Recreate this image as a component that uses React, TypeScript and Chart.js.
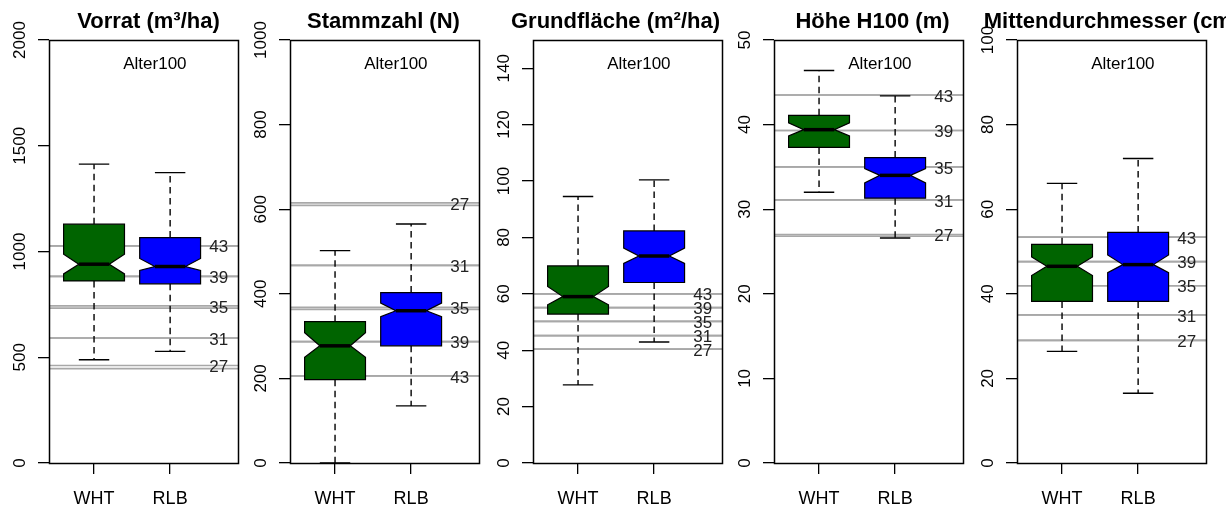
import React, { useEffect, useRef } from "react";
import { Chart, registerables } from "chart.js";

Chart.register(...registerables);

// ---------- data ----------
const groups = ["WHT", "RLB"];
const titles = [
  "Vorrat (m³/ha)",
  "Stammzahl (N)",
  "Grundfläche (m²/ha)",
  "Höhe H100 (m)",
  "Mittendurchmesser (cm)",
];
const annotationText = "Alter100";
const siLabels = ["43", "39", "35", "31", "27"];

const yMaxes = [2000, 1000, 150, 50, 100];
const vorratTicks = [0, 500, 1000, 1500, 2000];
const stammTicks = [0, 200, 400, 600, 800, 1000];
const grundTicks = [0, 20, 40, 60, 80, 100, 120, 140];
const hoeheTicks = [0, 10, 20, 30, 40, 50];
const mdTicks = [0, 20, 40, 60, 80, 100];

// box stats: lower whisker, Q1, notch low, median, notch high, Q3, upper whisker
const vorratWHT = [488, 861, 894, 940, 987, 1129, 1413];
const vorratRLB = [528, 847, 910, 929, 967, 1066, 1373];
const stammWHT = [0, 197, 250, 277, 308, 334, 502];
const stammRLB = [135, 277, 346, 360, 378, 403, 565];
const grundWHT = [27.7, 52.8, 56.1, 59.0, 62.6, 69.9, 94.5];
const grundRLB = [42.9, 64.0, 70.8, 73.4, 76.2, 82.3, 100.4];
const hoeheWHT = [32.0, 37.3, 38.65, 39.4, 40.2, 41.1, 46.4];
const hoeheRLB = [26.6, 31.3, 33.1, 34.0, 34.8, 36.1, 43.4];
const mdWHT = [26.4, 38.2, 44.3, 46.5, 48.7, 51.7, 66.1];
const mdRLB = [16.5, 38.2, 45.0, 46.9, 49.2, 54.5, 72.0];

// site-index reference lines (order of siLabels), two variants each
const vorratSiA = [1027, 882, 743, 591, 461];
const vorratSiB = [1027, 882, 732, 591, 446];
const stammSiA = [206, 287, 368, 467, 615];
const stammSiB = [206, 287, 363, 467, 609];
const grundSiA = [60.0, 55.1, 50.2, 45.2, 40.4];
const grundSiB = [60.0, 55.1, 50.2, 45.2, 40.4];
const hoeheSiA = [43.5, 39.3, 35.0, 31.1, 27.0];
const hoeheSiB = [43.5, 39.3, 35.0, 31.1, 26.8];
const mdSiA = [53.4, 47.6, 41.9, 35.0, 29.0];
const mdSiB = [53.4, 47.6, 41.9, 35.0, 29.0];

// ---------- layout / style ----------
const X_MIN = 0.408;
const X_MAX = 2.892;
const LABEL_X = 2.64;
const ANNOT_X = 1.8;
const ANNOT_FRAC = 0.943;
const BOX_HALF = 0.4;
const NOTCH_HALF = 0.2;
const CAP_HALF = 0.2;
const FONT = "'Liberation Sans', Arial, sans-serif";
const boxColors = ["#006400", "#0000ff"];

const panelLefts = [0, 241, 484, 725, 968];
const panelWidths = [241, 243, 241, 243, 258];
const titleOffsets = [5, -1, -12, 4, 0];
const AXIS_W = 49;
const PLOT_W = 189;

const panels = [
  { ticks: vorratTicks, boxes: [vorratWHT, vorratRLB], siA: vorratSiA, siB: vorratSiB },
  { ticks: stammTicks, boxes: [stammWHT, stammRLB], siA: stammSiA, siB: stammSiB },
  { ticks: grundTicks, boxes: [grundWHT, grundRLB], siA: grundSiA, siB: grundSiB },
  { ticks: hoeheTicks, boxes: [hoeheWHT, hoeheRLB], siA: hoeheSiA, siB: hoeheSiB },
  { ticks: mdTicks, boxes: [mdWHT, mdRLB], siA: mdSiA, siB: mdSiB },
];

function makePlugin(i: number) {
  const p = panels[i];
  return {
    id: "rboxplot" + i,
    beforeDatasetsDraw(chart: any) {
      const { ctx, chartArea: a, scales } = chart;
      const y = scales.y;
      ctx.save();
      ctx.beginPath();
      ctx.rect(a.left, a.top, a.right - a.left, a.bottom - a.top);
      ctx.clip();
      ctx.strokeStyle = "#a8a8a8";
      ctx.lineWidth = 1.7;
      const vals = [...p.siA, ...p.siB];
      for (const v of vals) {
        const py = y.getPixelForValue(v);
        ctx.beginPath();
        ctx.moveTo(a.left, py);
        ctx.lineTo(a.right, py);
        ctx.stroke();
      }
      ctx.restore();
    },
    afterDatasetsDraw(chart: any) {
      const { ctx, scales } = chart;
      const x = scales.x;
      const y = scales.y;
      ctx.save();
      p.boxes.forEach((s: number[], g: number) => {
        const c = g + 1;
        const xc = x.getPixelForValue(c);
        const xl = x.getPixelForValue(c - BOX_HALF);
        const xr = x.getPixelForValue(c + BOX_HALF);
        const xnl = x.getPixelForValue(c - NOTCH_HALF);
        const xnr = x.getPixelForValue(c + NOTCH_HALF);
        const xcl = x.getPixelForValue(c - CAP_HALF);
        const xcr = x.getPixelForValue(c + CAP_HALF);
        const [wlo, q1, nlo, med, nhi, q3, whi] = s.map((v) => y.getPixelForValue(v));
        ctx.strokeStyle = "#000";
        ctx.lineWidth = 1.4;
        // whiskers
        ctx.setLineDash([6.5, 4.5]);
        ctx.beginPath();
        ctx.moveTo(xc, q3);
        ctx.lineTo(xc, whi);
        ctx.moveTo(xc, q1);
        ctx.lineTo(xc, wlo);
        ctx.stroke();
        ctx.setLineDash([]);
        // caps
        ctx.beginPath();
        ctx.moveTo(xcl, whi);
        ctx.lineTo(xcr, whi);
        ctx.moveTo(xcl, wlo);
        ctx.lineTo(xcr, wlo);
        ctx.stroke();
        // notched box
        ctx.beginPath();
        ctx.moveTo(xl, q3);
        ctx.lineTo(xr, q3);
        ctx.lineTo(xr, nhi);
        ctx.lineTo(xnr, med);
        ctx.lineTo(xr, nlo);
        ctx.lineTo(xr, q1);
        ctx.lineTo(xl, q1);
        ctx.lineTo(xl, nlo);
        ctx.lineTo(xnl, med);
        ctx.lineTo(xl, nhi);
        ctx.closePath();
        ctx.fillStyle = boxColors[g];
        ctx.fill();
        ctx.lineWidth = 1.2;
        ctx.stroke();
        // median
        ctx.lineWidth = 3.5;
        ctx.beginPath();
        ctx.moveTo(xnl, med);
        ctx.lineTo(xnr, med);
        ctx.stroke();
      });
      ctx.restore();
    },
    afterDraw(chart: any) {
      const { ctx, chartArea: a, scales } = chart;
      const x = scales.x;
      const y = scales.y;
      ctx.save();
      // frame
      ctx.strokeStyle = "#000";
      ctx.lineWidth = 1.5;
      ctx.strokeRect(Math.round(a.left) + 0.5, Math.round(a.top) + 0.5, Math.round(a.right - a.left), Math.round(a.bottom - a.top));
      // site index labels
      ctx.fillStyle = "#222";
      ctx.font = `17px ${FONT}`;
      ctx.textAlign = "center";
      ctx.textBaseline = "middle";
      const lx = x.getPixelForValue(LABEL_X);
      p.siA.forEach((v: number, k: number) => {
        ctx.fillText(siLabels[k], lx, y.getPixelForValue(v) + 2);
      });
      // annotation
      ctx.fillStyle = "#000";
      ctx.fillText(annotationText, x.getPixelForValue(ANNOT_X), y.getPixelForValue(y.max * ANNOT_FRAC));
      // y tick labels (rotated, R style)
      ctx.textBaseline = "alphabetic";
      for (const t of y.ticks) {
        const py = y.getPixelForValue(t.value);
        ctx.save();
        ctx.translate(a.left - 24, py);
        ctx.rotate(-Math.PI / 2);
        ctx.fillText(String(t.value), 0, 0);
        ctx.restore();
      }
      // title
      ctx.font = `bold 22px ${FONT}`;
      ctx.textAlign = "center";
      ctx.fillText(titles[i], (a.left + a.right) / 2 + titleOffsets[i], 28);
      ctx.restore();
    },
  };
}

function Panel({ i }: { i: number }) {
  const ref = useRef<HTMLCanvasElement | null>(null);
  useEffect(() => {
    const p = panels[i];
    const width = panelWidths[i];
    const chart = new Chart(ref.current as HTMLCanvasElement, {
      type: "scatter",
      data: {
        datasets: [
          {
            data: p.boxes.map((s: number[], g: number) => ({ x: g + 1, y: s[3] })),
            pointRadius: 0,
            showLine: false,
          },
        ],
      },
      options: {
        responsive: false,
        animation: false,
        events: [],
        layout: { padding: { top: 40, left: 0, bottom: 0, right: width - AXIS_W - PLOT_W } },
        plugins: { legend: { display: false }, tooltip: { enabled: false }, title: { display: false } },
        scales: {
          x: {
            type: "linear",
            min: X_MIN,
            max: X_MAX,
            afterBuildTicks: (s: any) => {
              s.ticks = groups.map((_, g) => ({ value: g + 1 }));
            },
            afterFit: (s: any) => {
              s.height = 45;
            },
            ticks: {
              autoSkip: false,
              maxRotation: 0,
              minRotation: 0,
              padding: 14,
              color: "#000",
              font: { family: FONT, size: 18 },
              callback: (v: any) => groups[Math.round(v) - 1] ?? "",
            },
            grid: { drawOnChartArea: false, drawTicks: true, tickLength: 11, color: "#000", lineWidth: 1.3 },
            border: { display: true, color: "#000", width: 1 },
          },
          y: {
            type: "linear",
            min: 0,
            max: yMaxes[i],
            afterBuildTicks: (s: any) => {
              s.ticks = p.ticks.map((v: number) => ({ value: v }));
            },
            afterFit: (s: any) => {
              s.width = AXIS_W;
            },
            ticks: { display: false },
            grid: { drawOnChartArea: false, drawTicks: true, tickLength: 11, color: "#000", lineWidth: 1.3 },
            border: { display: true, color: "#000", width: 1 },
          },
        },
      } as any,
      plugins: [makePlugin(i)],
    });
    return () => chart.destroy();
  }, [i]);
  return (
    <canvas
      ref={ref}
      width={panelWidths[i]}
      height={508}
      style={{ position: "absolute", left: panelLefts[i], top: 0, width: panelWidths[i], height: 508 }}
    />
  );
}

export default function App() {
  return (
    <div style={{ position: "absolute", left: 0, top: 0, width: 1226, height: 508, background: "#fff", overflow: "hidden" }}>
      {panels.map((_, i) => (
        <Panel key={i} i={i} />
      ))}
    </div>
  );
}
